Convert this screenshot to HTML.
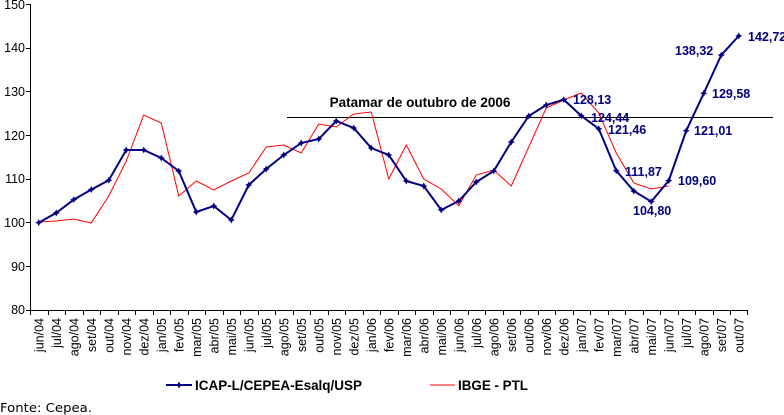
<!DOCTYPE html>
<html><head><meta charset="utf-8"><style>
html,body{margin:0;padding:0;background:#fff;width:784px;height:415px;overflow:hidden}
svg{display:block}
text{font-family:"Liberation Sans",Arial,sans-serif}
.t{font-size:12.5px;fill:#000}
.y{font-size:12.5px;fill:#000}
.l{font-size:12.5px;font-weight:bold;fill:#000080}
</style></head><body>
<svg width="784" height="415" viewBox="0 0 784 415">
<defs><path id="m" d="M0,-3.5 L1.2,-1.2 L3.5,0 L1.2,1.2 L0,3.5 L-1.2,1.2 L-3.5,0 L-1.2,-1.2Z" fill="#000080"/></defs>
<g stroke="#000" stroke-width="1" shape-rendering="crispEdges">
<line x1="30.5" y1="4" x2="30.5" y2="310.5"/>
<line x1="30" y1="310.5" x2="748" y2="310.5"/>
<line x1="26" y1="4.5" x2="30" y2="4.5"/><line x1="26" y1="48.5" x2="30" y2="48.5"/><line x1="26" y1="91.5" x2="30" y2="91.5"/><line x1="26" y1="135.5" x2="30" y2="135.5"/><line x1="26" y1="179.5" x2="30" y2="179.5"/><line x1="26" y1="222.5" x2="30" y2="222.5"/><line x1="26" y1="266.5" x2="30" y2="266.5"/><line x1="26" y1="310.5" x2="30" y2="310.5"/>
</g>
<g class="y" text-anchor="end">
<text x="25" y="9">150</text><text x="25" y="52">140</text><text x="25" y="96">130</text><text x="25" y="140">120</text><text x="25" y="183">110</text><text x="25" y="227">100</text><text x="25" y="271">90</text><text x="25" y="314">80</text>
</g>
<line x1="287" y1="117.5" x2="773" y2="117.5" stroke="#000" stroke-width="1"/>
<text x="420" y="107" text-anchor="middle" style="font-size:13.5px;font-weight:bold;fill:#000">Patamar de outubro de 2006</text>
<polyline fill="none" stroke="#ff0000" stroke-width="1" points="38.75,222 56.25,221 73.75,219 91.25,223 108.75,196 126.25,161 143.75,115 161.25,123 178.75,196 196.25,181 213.75,190 231.25,181 248.75,173 266.25,147 283.75,145 301.25,153 318.75,124 336.25,127 353.75,114 371.25,112 388.75,179 406.25,145 423.75,179 441.25,189 458.75,206 476.25,175 493.75,170 511.25,186 528.75,147 546.25,108 563.75,100 581.25,93 598.75,113 616.25,153 633.75,183 651.25,189 668.75,186"/>
<polyline fill="none" stroke="#000080" stroke-width="2" points="38.75,222.6 56.25,212.9 73.75,199.6 91.25,189.6 108.75,180.3 126.25,150 143.75,150 161.25,158 178.75,171 196.25,212 213.75,206 231.25,220 248.75,185 266.25,169 283.75,155 301.25,143 318.75,139 336.25,121 353.75,128 371.25,148 388.75,155 406.25,181 423.75,186 441.25,210 458.75,201 476.25,182 493.75,171 511.25,142 528.75,116 546.25,105 563.75,99.6 581.25,115.8 598.75,128.8 616.25,170.7 633.75,191 651.25,201.6 668.75,180.6 686.25,130.7 703.75,93.3 721.25,55.1 738.75,35.9"/>
<g>
<use href="#m" x="38.75" y="222.6"/><use href="#m" x="56.25" y="212.9"/><use href="#m" x="73.75" y="199.6"/><use href="#m" x="91.25" y="189.6"/><use href="#m" x="108.75" y="180.3"/><use href="#m" x="126.25" y="150"/><use href="#m" x="143.75" y="150"/><use href="#m" x="161.25" y="158"/><use href="#m" x="178.75" y="171"/><use href="#m" x="196.25" y="212"/><use href="#m" x="213.75" y="206"/><use href="#m" x="231.25" y="220"/><use href="#m" x="248.75" y="185"/><use href="#m" x="266.25" y="169"/><use href="#m" x="283.75" y="155"/><use href="#m" x="301.25" y="143"/><use href="#m" x="318.75" y="139"/><use href="#m" x="336.25" y="121"/><use href="#m" x="353.75" y="128"/><use href="#m" x="371.25" y="148"/><use href="#m" x="388.75" y="155"/><use href="#m" x="406.25" y="181"/><use href="#m" x="423.75" y="186"/><use href="#m" x="441.25" y="210"/><use href="#m" x="458.75" y="201"/><use href="#m" x="476.25" y="182"/><use href="#m" x="493.75" y="171"/><use href="#m" x="511.25" y="142"/><use href="#m" x="528.75" y="116"/><use href="#m" x="546.25" y="105"/><use href="#m" x="563.75" y="99.6"/><use href="#m" x="581.25" y="115.8"/><use href="#m" x="598.75" y="128.8"/><use href="#m" x="616.25" y="170.7"/><use href="#m" x="633.75" y="191"/><use href="#m" x="651.25" y="201.6"/><use href="#m" x="668.75" y="180.6"/><use href="#m" x="686.25" y="130.7"/><use href="#m" x="703.75" y="93.3"/><use href="#m" x="721.25" y="55.1"/><use href="#m" x="738.75" y="35.9"/>
</g>
<g class="l">
<text x="573" y="104">128,13</text>
<text x="591" y="122">124,44</text>
<text x="608" y="134">121,46</text>
<text x="625" y="176">111,87</text>
<text x="633" y="215">104,80</text>
<text x="678" y="185">109,60</text>
<text x="694" y="135">121,01</text>
<text x="712" y="98">129,58</text>
<text x="675" y="55">138,32</text>
<text x="748" y="41">142,72</text>
</g>
<g stroke="#000" stroke-width="1" shape-rendering="crispEdges">
<path d="M30.5,310V315M48.5,310V315M65.5,310V315M83.5,310V315M100.5,310V315M118.5,310V315M135.5,310V315M153.5,310V315M170.5,310V315M188.5,310V315M205.5,310V315M223.5,310V315M240.5,310V315M258.5,310V315M275.5,310V315M293.5,310V315M310.5,310V315M328.5,310V315M345.5,310V315M363.5,310V315M380.5,310V315M398.5,310V315M415.5,310V315M433.5,310V315M450.5,310V315M468.5,310V315M485.5,310V315M503.5,310V315M520.5,310V315M538.5,310V315M555.5,310V315M573.5,310V315M590.5,310V315M608.5,310V315M625.5,310V315M643.5,310V315M660.5,310V315M678.5,310V315M695.5,310V315M713.5,310V315M730.5,310V315M747.5,310V315"/>
</g>
<g class="t" text-anchor="end">
<text transform="translate(43.5,318) rotate(-90)">jun/04</text>
<text transform="translate(61,318) rotate(-90)">jul/04</text>
<text transform="translate(78.5,318) rotate(-90)">ago/04</text>
<text transform="translate(96,318) rotate(-90)">set/04</text>
<text transform="translate(113.5,318) rotate(-90)">out/04</text>
<text transform="translate(131,318) rotate(-90)">nov/04</text>
<text transform="translate(148.5,318) rotate(-90)">dez/04</text>
<text transform="translate(166,318) rotate(-90)">jan/05</text>
<text transform="translate(183.5,318) rotate(-90)">fev/05</text>
<text transform="translate(201,318) rotate(-90)">mar/05</text>
<text transform="translate(218.5,318) rotate(-90)">abr/05</text>
<text transform="translate(236,318) rotate(-90)">mai/05</text>
<text transform="translate(253.5,318) rotate(-90)">jun/05</text>
<text transform="translate(271,318) rotate(-90)">jul/05</text>
<text transform="translate(288.5,318) rotate(-90)">ago/05</text>
<text transform="translate(306,318) rotate(-90)">set/05</text>
<text transform="translate(323.5,318) rotate(-90)">out/05</text>
<text transform="translate(341,318) rotate(-90)">nov/05</text>
<text transform="translate(358.5,318) rotate(-90)">dez/05</text>
<text transform="translate(376,318) rotate(-90)">jan/06</text>
<text transform="translate(393.5,318) rotate(-90)">fev/06</text>
<text transform="translate(411,318) rotate(-90)">mar/06</text>
<text transform="translate(428.5,318) rotate(-90)">abr/06</text>
<text transform="translate(446,318) rotate(-90)">mai/06</text>
<text transform="translate(463.5,318) rotate(-90)">jun/06</text>
<text transform="translate(481,318) rotate(-90)">jul/06</text>
<text transform="translate(498.5,318) rotate(-90)">ago/06</text>
<text transform="translate(516,318) rotate(-90)">set/06</text>
<text transform="translate(533.5,318) rotate(-90)">out/06</text>
<text transform="translate(551,318) rotate(-90)">nov/06</text>
<text transform="translate(568.5,318) rotate(-90)">dez/06</text>
<text transform="translate(586,318) rotate(-90)">jan/07</text>
<text transform="translate(603.5,318) rotate(-90)">fev/07</text>
<text transform="translate(621,318) rotate(-90)">mar/07</text>
<text transform="translate(638.5,318) rotate(-90)">abr/07</text>
<text transform="translate(656,318) rotate(-90)">mai/07</text>
<text transform="translate(673.5,318) rotate(-90)">jun/07</text>
<text transform="translate(691,318) rotate(-90)">jul/07</text>
<text transform="translate(708.5,318) rotate(-90)">ago/07</text>
<text transform="translate(726,318) rotate(-90)">set/07</text>
<text transform="translate(743.5,318) rotate(-90)">out/07</text>
</g>
<line x1="166" y1="385" x2="192" y2="385" stroke="#000080" stroke-width="2"/>
<use href="#m" x="179" y="385"/>
<text x="195" y="390" textLength="167" lengthAdjust="spacingAndGlyphs" style="font-size:14px;font-weight:bold;fill:#000">ICAP-L/CEPEA-Esalq/USP</text>
<line x1="430" y1="385" x2="455" y2="385" stroke="#ff0000" stroke-width="1"/>
<text x="458" y="390" textLength="70" lengthAdjust="spacingAndGlyphs" style="font-size:14px;font-weight:bold;fill:#000">IBGE - PTL</text>
<text x="0" y="412" textLength="92" lengthAdjust="spacingAndGlyphs" style="font-family:'DejaVu Sans',sans-serif;font-size:12.5px;fill:#000">Fonte: Cepea.</text>
</svg>
</body></html>
